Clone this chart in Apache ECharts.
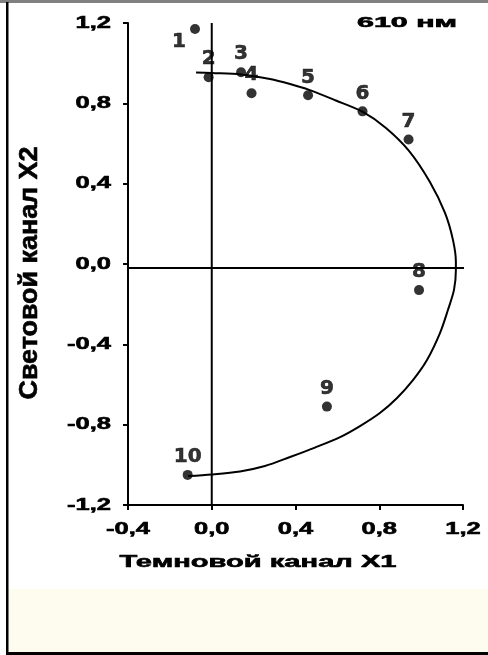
<!DOCTYPE html>
<html>
<head>
<meta charset="utf-8">
<script src="https://cdn.jsdelivr.net/npm/echarts@6/dist/echarts.min.js"></script>
<style>
  html, body { margin: 0; padding: 0; background: #fff; }
  #chart { width: 488px; height: 655px; }
</style>
</head>
<body>
<div id="chart"></div>
<script>
// Measured points (X1 = dark channel, X2 = light channel)
const pointNames = ['1', '2', '3', '4', '5', '6', '7', '8', '9', '10'];
const x1Values = [-0.08, -0.015, 0.14, 0.19, 0.46, 0.72, 0.94, 0.99, 0.55, -0.115];
const x2Values = [1.17, 0.93, 0.955, 0.85, 0.84, 0.76, 0.62, -0.13, -0.71, -1.05];

// Fitted half-ellipse, sampled along the drawn curve (top arc, right edge, bottom arc)
const curveX1 = [-0.075, 0.0, 0.14, 0.278, 0.374, 0.465, 0.593, 0.722, 0.832, 0.942, 1.042, 1.114, 1.152, 1.166,
                 1.166, 1.157, 1.128, 1.09, 1.028, 0.961, 0.885, 0.803, 0.708, 0.613, 0.493, 0.374, 0.254, 0.135, 0.0, -0.113];
const curveX2 = [0.954, 0.951, 0.944, 0.921, 0.896, 0.867, 0.814, 0.757, 0.677, 0.563, 0.408, 0.254, 0.12, 0.01,
                 -0.03, -0.129, -0.229, -0.344, -0.478, -0.578, -0.667, -0.742, -0.807, -0.862, -0.914, -0.961, -1.006, -1.033, -1.048, -1.056];

// Reference cross lines
const crossLineX1 = [-0.42, 1.27];
const crossLineX2 = -0.02;
const verticalLineX2 = [-1.2, 1.2];

// Axis ticks and texts
const xTicks = [-0.4, 0.0, 0.4, 0.8, 1.2];
const yTicks = [-1.2, -0.8, -0.4, 0.0, 0.4, 0.8, 1.2];
const xTitle = 'Темновой канал X1';
const yTitle = 'Световой канал X2';
const wavelengthNote = '610 нм';

const measureCtx = document.createElement('canvas').getContext('2d');
function textWidth(text, font) {
  measureCtx.font = font;
  return measureCtx.measureText(text).width;
}
function tickText(v) {
  return v.toFixed(1).replace('.', ',');
}

const chart = echarts.init(document.getElementById('chart'), null, { renderer: 'canvas' });

const axisCommon = {
  type: 'value',
  axisLine: { show: true, onZero: false, lineStyle: { color: '#000', width: 2 } },
  axisTick: { show: true, inside: false, length: 5, lineStyle: { color: '#000', width: 2 } },
  axisLabel: { show: false },
  splitLine: { show: false }
};

// label placement tweaks for crowded points
const labelOverrides = {
  '1': { position: 'left', distance: 4, offset: [0, 13] }
};

const pointData = x1Values.map((x, i) => {
  const item = { value: [x, x2Values[i]], name: pointNames[i] };
  if (labelOverrides[pointNames[i]]) item.label = labelOverrides[pointNames[i]];
  return item;
});

const plainLine = {
  type: 'line',
  showSymbol: false,
  silent: true,
  lineStyle: { color: '#000', width: 2 },
  emphasis: { disabled: true },
  z: 2
};

chart.setOption({
  animation: false,
  backgroundColor: '#fff',
  grid: { left: 128, right: 25, top: 23, bottom: 150 },
  xAxis: Object.assign({}, axisCommon, { min: -0.4, max: 1.2, interval: 0.4 }),
  yAxis: Object.assign({}, axisCommon, { min: -1.2, max: 1.2, interval: 0.4 }),
  series: [
    Object.assign({}, plainLine, {
      data: curveX1.map((x, i) => [x, curveX2[i]]),
      smooth: 0.3,
      clip: false
    }),
    Object.assign({}, plainLine, {
      data: verticalLineX2.map(y => [0, y])
    }),
    Object.assign({}, plainLine, {
      data: crossLineX1.map(x => [x, crossLineX2]),
      clip: false
    }),
    {
      type: 'scatter',
      data: pointData,
      symbol: 'circle',
      symbolSize: 10,
      itemStyle: { color: '#000' },
      emphasis: { disabled: true },
      z: 3,
      label: {
        show: true,
        position: 'top',
        distance: 3,
        formatter: p => p.name,
        fontFamily: 'DejaVu Sans',
        fontWeight: 'bold',
        fontSize: 20,
        color: '#000',
        textBorderColor: '#000',
        textBorderWidth: 0.6
      }
    }
  ]
});

// Texts drawn as graphic elements so they can be widened like the original layout
const tickFont = 'bold 17px "Liberation Sans"';
const tickScale = 1.5;
const heavy = { fill: '#000', stroke: '#000', lineWidth: 0.6 };
const graphics = [];

// frame and footer band
graphics.push({ type: 'rect', shape: { x: 0, y: 0, width: 488, height: 3 }, style: { fill: '#808080' }, silent: true });
graphics.push({ type: 'rect', shape: { x: 8, y: 589, width: 480, height: 63 }, style: { fill: '#FEFBEF' }, silent: true });
graphics.push({ type: 'rect', shape: { x: 6, y: 2, width: 2.5, height: 653 }, style: { fill: '#000' }, silent: true });
graphics.push({ type: 'rect', shape: { x: 6, y: 652, width: 482, height: 3 }, style: { fill: '#000' }, silent: true });

function addText(text, font, x, y, align, extra) {
  graphics.push(Object.assign({
    type: 'text', x: x, y: y, silent: true,
    style: Object.assign({ text: text, font: font,
      textAlign: align, textVerticalAlign: 'middle', align: align, verticalAlign: 'middle' }, heavy)
  }, extra));
}

yTicks.forEach(v => {
  const py = chart.convertToPixel({ yAxisIndex: 0 }, v);
  addText(tickText(v), tickFont, 111, py, 'right', { scaleX: tickScale });
});
xTicks.forEach(v => {
  const px = chart.convertToPixel({ xAxisIndex: 0 }, v);
  addText(tickText(v), tickFont, px, 529, 'center', { scaleX: tickScale });
});

const xTitleFont = 'bold 17px "Liberation Sans"';
addText(xTitle, xTitleFont, 258, 562, 'center', { scaleX: 277 / textWidth(xTitle, xTitleFont) });

const yTitleFont = 'bold 25px "Liberation Sans"';
addText(yTitle, yTitleFont, 30, 273, 'center', {
  rotation: Math.PI / 2, scaleX: 253 / textWidth(yTitle, yTitleFont)
});

const noteFont = 'bold 14px "Liberation Sans"';
addText(wavelengthNote, noteFont, 407, 23, 'center', { scaleX: 100 / textWidth(wavelengthNote, noteFont) });

chart.setOption({ graphic: graphics });
</script>
</body>
</html>
